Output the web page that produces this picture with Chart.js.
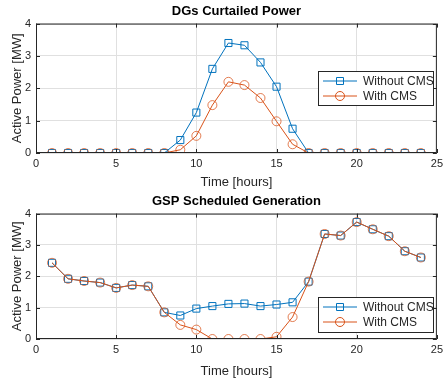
<!DOCTYPE html>
<html>
<head>
<meta charset="utf-8">
<script src="https://cdn.jsdelivr.net/npm/chart.js@4.4.1/dist/chart.umd.min.js"></script>
<style>
  html, body { margin: 0; padding: 0; background: #fff; }
  .box { position: absolute; left: 0; width: 447px; }
  #top { top: 0; height: 190px; }
  #bottom { top: 190px; height: 189px; }
</style>
</head>
<body>
<div class="box" id="top"><canvas id="dgChart"></canvas></div>
<div class="box" id="bottom"><canvas id="gspChart"></canvas></div>
<script>
const hours = [1,2,3,4,5,6,7,8,9,10,11,12,13,14,15,16,17,18,19,20,21,22,23,24];

const dgWithout = [0,0,0,0,0,0,0,0,0.4,1.25,2.6,3.4,3.33,2.8,2.05,0.75,0,0,0,0,0,0,0,0];
const dgWith    = [0,0,0,0,0,0,0,0,0.1,0.53,1.48,2.2,2.1,1.7,0.98,0.27,0,0,0,0,0,0,0,0];

const gspWithout = [2.43,1.92,1.85,1.8,1.63,1.72,1.68,0.85,0.75,0.97,1.05,1.12,1.13,1.05,1.1,1.17,1.83,3.35,3.3,3.73,3.5,3.28,2.8,2.6];
const gspWith    = [2.43,1.92,1.85,1.8,1.63,1.72,1.68,0.85,0.45,0.3,0,0,0,0,0.07,0.7,1.83,3.35,3.3,3.73,3.5,3.28,2.8,2.6];

const xTicks = [0,5,10,15,20,25];
const yTicks = [0,1,2,3,4];

const BLUE = '#0072BD';
const ORANGE = '#D95319';
const AXIS = '#262626';
const FONT = "'Liberation Sans', Arial, sans-serif";

function toPoints(values) {
    return hours.map((h, i) => ({ x: h, y: values[i] }));
}

// box, inside ticks and the legend, MATLAB style
const matlabFrame = {
    id: 'matlabFrame',
    afterDraw(chart, args, opts) {
        const { ctx, chartArea: a, scales } = chart;
        ctx.save();
        ctx.strokeStyle = AXIS;
        ctx.lineWidth = 1;
        ctx.strokeRect(a.left + 0.5, a.top + 0.5, a.right - a.left - 1, a.bottom - a.top - 1);
        ctx.beginPath();
        xTicks.forEach(v => {
            const px = Math.round(scales.x.getPixelForValue(v)) + 0.5;
            ctx.moveTo(px, a.bottom); ctx.lineTo(px, a.bottom - 4);
            ctx.moveTo(px, a.top); ctx.lineTo(px, a.top + 4);
        });
        yTicks.forEach(v => {
            const py = Math.round(scales.y.getPixelForValue(v)) + 0.5;
            ctx.moveTo(a.left, py); ctx.lineTo(a.left + 4, py);
            ctx.moveTo(a.right, py); ctx.lineTo(a.right - 4, py);
        });
        ctx.stroke();

        // legend
        const L = opts.box;
        ctx.fillStyle = '#fff';
        ctx.fillRect(L.x, L.y, L.w, L.h);
        ctx.strokeStyle = AXIS;
        ctx.strokeRect(L.x + 0.5, L.y + 0.5, L.w, L.h);
        const items = [
            { label: 'Without CMS', color: BLUE, style: 'rect' },
            { label: 'With CMS', color: ORANGE, style: 'circle' }
        ];
        items.forEach((it, i) => {
            const y = L.y + 10 + i * 15;
            ctx.strokeStyle = it.color;
            ctx.beginPath();
            ctx.moveTo(L.x + 5, y); ctx.lineTo(L.x + 39, y);
            ctx.stroke();
            ctx.beginPath();
            if (it.style === 'rect') {
                ctx.rect(L.x + 22 - 3.5, y - 3.5, 7, 7);
            } else {
                ctx.arc(L.x + 22, y, 4.5, 0, Math.PI * 2);
            }
            ctx.stroke();
            ctx.fillStyle = AXIS;
            ctx.font = '12px ' + FONT;
            ctx.textBaseline = 'middle';
            ctx.fillText(it.label, L.x + 45, y + 1);
        });
        ctx.restore();
    }
};

function makeChart(id, title, withoutData, withData, xHeight, legendBox) {
    return new Chart(document.getElementById(id), {
        type: 'line',
        data: {
            datasets: [{
                label: 'Without CMS',
                data: toPoints(withoutData),
                borderColor: BLUE,
                backgroundColor: 'rgba(0,0,0,0)',
                borderWidth: 1,
                pointStyle: 'rect',
                pointRadius: 5,
                pointBorderWidth: 1,
                pointBorderColor: BLUE,
                pointBackgroundColor: 'rgba(0,0,0,0)',
                order: 1
            }, {
                label: 'With CMS',
                data: toPoints(withData),
                borderColor: ORANGE,
                backgroundColor: 'rgba(0,0,0,0)',
                borderWidth: 1,
                pointStyle: 'circle',
                pointRadius: 4.5,
                pointBorderWidth: 1,
                pointBorderColor: 'rgba(217,83,25,0.75)',
                pointBackgroundColor: 'rgba(0,0,0,0)',
                order: 0
            }]
        },
        options: {
            responsive: true,
            maintainAspectRatio: false,
            animation: false,
            layout: { autoPadding: false, padding: { left: 0, right: 4, top: 0, bottom: 0 } },
            plugins: {
                legend: { display: false },
                tooltip: { enabled: false },
                title: {
                    display: true,
                    text: title,
                    fullSize: false,
                    color: '#000',
                    font: { family: FONT, size: 13, weight: 'bold' },
                    padding: { top: 4, bottom: 4 }
                },
                matlabFrame: { box: legendBox }
            },
            scales: {
                x: {
                    type: 'linear',
                    min: 0, max: 25,
                    afterBuildTicks: s => { s.ticks = xTicks.map(v => ({ value: v })); },
                    afterFit: s => { s.height = xHeight; },
                    grid: { color: '#e0e0e0', drawTicks: false },
                    border: { display: false },
                    ticks: { color: AXIS, font: { family: FONT, size: 11 }, padding: 4, maxRotation: 0 },
                    title: { display: true, text: 'Time [hours]', color: AXIS, font: { family: FONT, size: 13 }, padding: { top: 1, bottom: 0 } }
                },
                y: {
                    min: 0, max: 4,
                    afterBuildTicks: s => { s.ticks = yTicks.map(v => ({ value: v })); },
                    afterFit: s => { s.width = 36; },
                    grid: { color: '#e0e0e0', drawTicks: false },
                    border: { display: false },
                    ticks: { color: AXIS, font: { family: FONT, size: 11 }, padding: 5 },
                    title: { display: true, text: 'Active Power [MW]', color: AXIS, font: { family: FONT, size: 13 }, padding: { top: 10, bottom: 0 } }
                }
            }
        },
        plugins: [matlabFrame]
    });
}

makeChart('dgChart', 'DGs Curtailed Power', dgWithout, dgWith, 37, { x: 318, y: 71, w: 115, h: 34 });
makeChart('gspChart', 'GSP Scheduled Generation', gspWithout, gspWith, 40, { x: 318, y: 107, w: 115, h: 35 });
</script>
</body>
</html>
